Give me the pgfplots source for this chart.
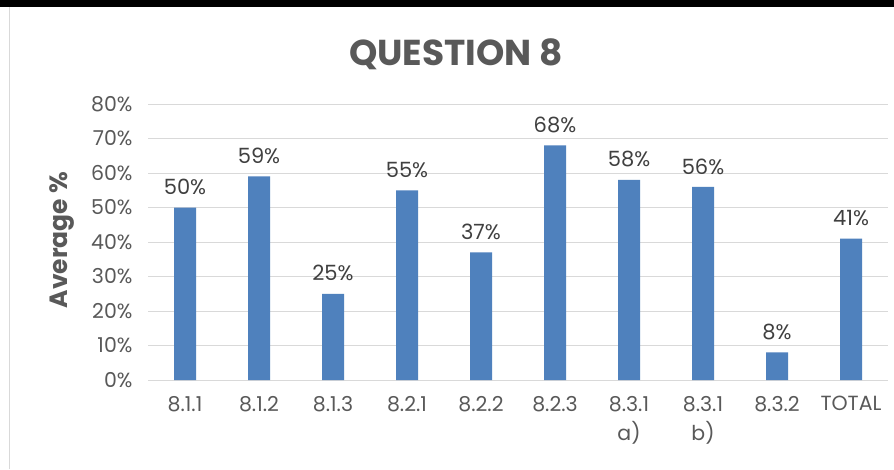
\documentclass[border=0pt]{standalone}
\usepackage{pgfplots}
\pgfplotsset{compat=1.18}
\usepackage{fontspec}
\setmainfont{Poppins}
\definecolor{barblue}{HTML}{4F81BD}
\definecolor{ticktxt}{HTML}{595959}
\definecolor{valtxt}{HTML}{404040}
\definecolor{gridgray}{HTML}{D9D9D9}
\begin{document}
\begin{tikzpicture}
\useasboundingbox (0pt,0pt) rectangle (894pt,469pt);
\fill[white] (0pt,0pt) rectangle (894pt,469pt);
\fill[black] (0pt,462pt) rectangle (894pt,469pt);
\draw[gridgray, line width=1.5pt] (9.5pt,0pt) -- (9.5pt,462pt);
\begin{axis}[
  at={(148pt,89pt)}, anchor=south west,
  scale only axis, width=740pt, height=276pt,
  ybar, bar width=22pt,
  xmin=-0.5, xmax=9.5, ymin=0, ymax=80,
  ytick={0,10,...,80},
  yticklabel={\pgfmathprintnumber{\tick}\%},
  xtick=data,
  xticklabels={8.1.1,8.1.2,8.1.3,8.2.1,8.2.2,8.2.3,{8.3.1\\a)},{8.3.1\\b)},8.3.2,TOTAL},
  xticklabel style={align=center, font=\fontsize{20.5}{29}\selectfont, text=ticktxt, yshift=-13pt},
  yticklabel style={font=\fontsize{20.5}{24}\selectfont, text=ticktxt, xshift=-12pt},
  /pgf/number format/assume math mode=true,
  major tick length=0pt,
  ymajorgrids, grid style={gridgray, line width=1pt},
  axis x line*=bottom, axis y line*=left,
  x axis line style={gridgray, line width=1pt, -},
  y axis line style={draw=none},
  nodes near coords={\pgfmathprintnumber{\pgfplotspointmeta}\%},
  every node near coord/.append style={font=\fontsize{21}{24}\selectfont, text=valtxt, yshift=9pt},
]
\addplot[fill=barblue, draw=none] coordinates {
  (0,50) (1,59) (2,25) (3,55) (4,37) (5,68) (6,58) (7,56) (8,8) (9,41)
};
\end{axis}
\node[font=\fontsize{36}{40}\selectfont\bfseries, text=ticktxt] at (456pt,415pt) {QUESTION 8};
\node[rotate=90, font=\fontsize{25}{28}\selectfont\bfseries, text=ticktxt] at (62pt,229pt) {Average \%};
\end{tikzpicture}
\end{document}
